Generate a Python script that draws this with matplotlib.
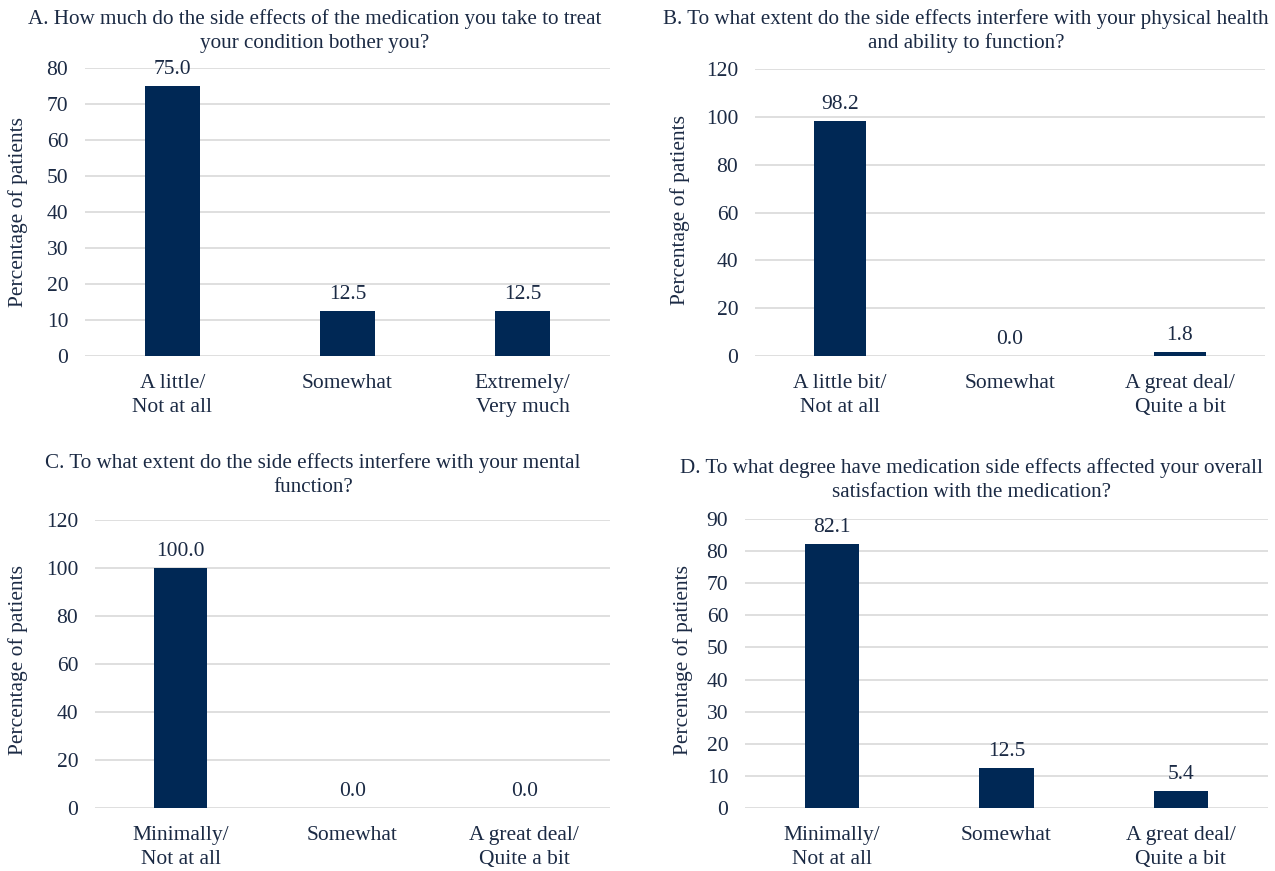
import matplotlib
matplotlib.use("Agg")
import matplotlib.pyplot as plt

plt.rcParams["font.family"] = ["Liberation Serif", "DejaVu Serif"]

TEXT = "#1b2a44"
BAR = "#002855"
GRID = "#d9d9d9"
FS = 15.5
TITLE_FS = 15.2

# Panel data
title_a = "A. How much do the side effects of the medication you take to treat\nyour condition bother you?"
cats_a = ["A little/\nNot at all", "Somewhat", "Extremely/\nVery much"]
vals_a = [75.0, 12.5, 12.5]
ymax_a, ystep_a = 80, 10

title_b = "B. To what extent do the side effects interfere with your physical health\nand ability to function?"
cats_b = ["A little bit/\nNot at all", "Somewhat", "A great deal/\nQuite a bit"]
vals_b = [98.2, 0.0, 1.8]
ymax_b, ystep_b = 120, 20

title_c = "C. To what extent do the side effects interfere with your mental\nfunction?"
cats_c = ["Minimally/\nNot at all", "Somewhat", "A great deal/\nQuite a bit"]
vals_c = [100.0, 0.0, 0.0]
ymax_c, ystep_c = 120, 20

title_d = "D. To what degree have medication side effects affected your overall\nsatisfaction with the medication?"
cats_d = ["Minimally/\nNot at all", "Somewhat", "A great deal/\nQuite a bit"]
vals_d = [82.1, 12.5, 5.4]
ymax_d, ystep_d = 90, 10

W, H = 1275, 871
fig = plt.figure(figsize=(W / 100, H / 100), dpi=100)
fig.patch.set_facecolor("white")


def px_axes(x0, x1, ybot, ytop):
    return fig.add_axes([x0 / W, (H - ybot) / H, (x1 - x0) / W, (ybot - ytop) / H])


def panel(ax, title, cats, vals, ymax, ystep, title_xy, ylabel_xy):
    x = list(range(len(cats)))
    ax.bar(x, vals, width=0.31, color=BAR, zorder=3)
    for xi, v in zip(x, vals):
        ax.annotate(f"{v:.1f}", (xi, v), xytext=(0, 5), textcoords="offset points",
                    ha="center", va="bottom", fontsize=FS, color=TEXT)
    ax.set_xlim(-0.5, len(cats) - 0.5)
    ax.set_ylim(0, ymax)
    ax.set_yticks(range(0, ymax + 1, ystep))
    ax.set_xticks(x)
    ax.set_xticklabels(cats, linespacing=1.35)
    ax.yaxis.grid(True, color=GRID, linewidth=1.2, zorder=0)
    ax.set_axisbelow(True)
    for s in ax.spines.values():
        s.set_visible(False)
    ax.tick_params(axis="both", length=0, labelsize=FS, colors=TEXT)
    ax.tick_params(axis="y", pad=12)
    ax.tick_params(axis="x", pad=13)
    fig.text(title_xy[0] / W, 1 - title_xy[1] / H, title, ha="center", va="center",
             multialignment="center", fontsize=TITLE_FS, color=TEXT, linespacing=1.3)
    fig.text(ylabel_xy[0] / W, 1 - ylabel_xy[1] / H, "Percentage of patients",
             rotation=90, ha="center", va="center", fontsize=FS, color=TEXT)


ax_a = px_axes(85, 610, 356, 68)
panel(ax_a, title_a, cats_a, vals_a, ymax_a, ystep_a, (315, 31), (18, 212))

ax_b = px_axes(755, 1265, 356, 69)
panel(ax_b, title_b, cats_b, vals_b, ymax_b, ystep_b, (966, 31), (680, 210))

ax_c = px_axes(95, 610, 808, 520)
panel(ax_c, title_c, cats_c, vals_c, ymax_c, ystep_c, (313, 475), (18, 660))

ax_d = px_axes(745, 1268, 808, 519)
panel(ax_d, title_d, cats_d, vals_d, ymax_d, ystep_d, (972, 480), (683, 660))

fig.savefig("out.png", dpi=100, facecolor="white")
